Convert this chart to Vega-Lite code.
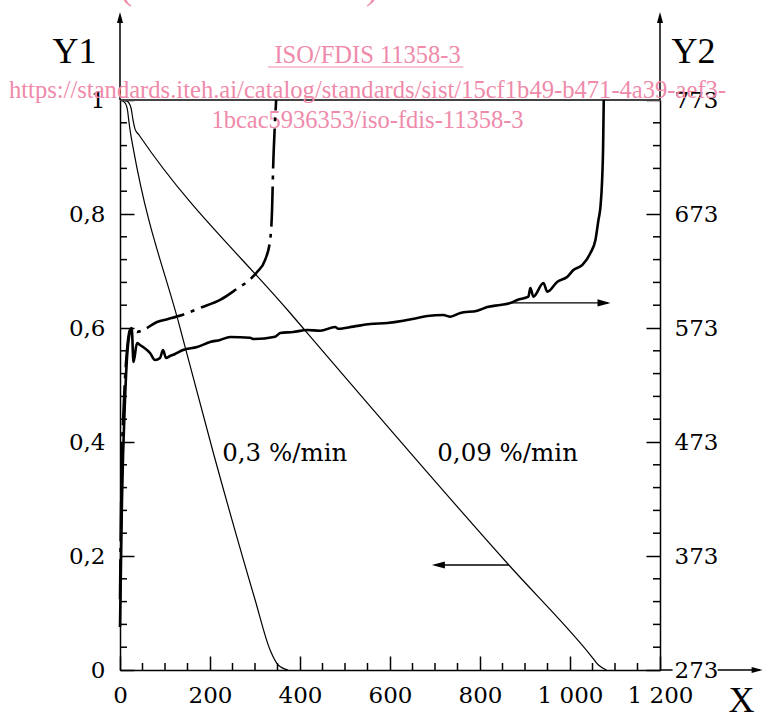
{
  "$schema": "https://vega.github.io/schema/vega-lite/v6.json",
  "width": 540,
  "height": 570,
  "autosize": {"type": "none"},
  "padding": {"left": 120, "top": 100, "right": 105, "bottom": 47},
  "background": "white",
  "config": {"view": {"stroke": null}, "axis": {"grid": false}},
  "datasets": {
    "one": [{}],
    "mass": [
      {"series": "0,3", "x": 0, "y": 1.0},
      {"series": "0,3", "x": 11.1, "y": 0.995},
      {"series": "0,3", "x": 16.7, "y": 0.982},
      {"series": "0,3", "x": 20, "y": 0.961},
      {"series": "0,3", "x": 23.4, "y": 0.942},
      {"series": "0,3", "x": 28.9, "y": 0.9175},
      {"series": "0,3", "x": 133.5, "y": 0.6},
      {"series": "0,3", "x": 206.9, "y": 0.3825},
      {"series": "0,3", "x": 300.3, "y": 0.1228},
      {"series": "0,3", "x": 333.6, "y": 0.0351},
      {"series": "0,3", "x": 351.4, "y": 0.0088},
      {"series": "0,3", "x": 373.7, "y": 0},
      {"series": "0,09", "x": 0, "y": 1.0},
      {"series": "0,09", "x": 15.6, "y": 0.998},
      {"series": "0,09", "x": 24.5, "y": 0.986},
      {"series": "0,09", "x": 28.9, "y": 0.965},
      {"series": "0,09", "x": 33.4, "y": 0.949},
      {"series": "0,09", "x": 42.3, "y": 0.9386},
      {"series": "0,09", "x": 378.1, "y": 0.6263},
      {"series": "0,09", "x": 864.1, "y": 0.1842},
      {"series": "0,09", "x": 1045.4, "y": 0.0263},
      {"series": "0,09", "x": 1063.2, "y": 0.0088},
      {"series": "0,09", "x": 1081, "y": 0}
    ],
    "temp": [
      {"series": "0,3", "x": 0, "t": 335},
      {"series": "0,3", "x": 3.3, "t": 439.7},
      {"series": "0,3", "x": 8.9, "t": 509.8},
      {"series": "0,3", "x": 15.6, "t": 553.7},
      {"series": "0,3", "x": 22.2, "t": 571.2},
      {"series": "0,3", "x": 28.9, "t": 573},
      {"series": "0,3", "x": 37.8, "t": 569.5},
      {"series": "0,3", "x": 51.2, "t": 571.2},
      {"series": "0,3", "x": 82.3, "t": 578.3},
      {"series": "0,3", "x": 106.8, "t": 580.9},
      {"series": "0,3", "x": 137.9, "t": 584.4},
      {"series": "0,3", "x": 177.9, "t": 590.6},
      {"series": "0,3", "x": 222.4, "t": 597.6},
      {"series": "0,3", "x": 262.5, "t": 608.1},
      {"series": "0,3", "x": 284.7, "t": 614.2},
      {"series": "0,3", "x": 304.7, "t": 622.1},
      {"series": "0,3", "x": 322.5, "t": 632.7},
      {"series": "0,3", "x": 333.6, "t": 650.2},
      {"series": "0,3", "x": 338.1, "t": 679.1},
      {"series": "0,3", "x": 340.3, "t": 713.4},
      {"series": "0,3", "x": 343.6, "t": 746.7},
      {"series": "0,3", "x": 347, "t": 773},
      {"series": "0,09", "x": 0, "t": 310.7},
      {"series": "0,09", "x": 4.4, "t": 422.1},
      {"series": "0,09", "x": 11.1, "t": 509.8},
      {"series": "0,09", "x": 17.8, "t": 558.1},
      {"series": "0,09", "x": 26, "t": 573},
      {"series": "0,09", "x": 30, "t": 543.2},
      {"series": "0,09", "x": 37.8, "t": 559.8},
      {"series": "0,09", "x": 44.5, "t": 558.1},
      {"series": "0,09", "x": 51.2, "t": 556.3},
      {"series": "0,09", "x": 66.7, "t": 551.1},
      {"series": "0,09", "x": 77.8, "t": 544.9},
      {"series": "0,09", "x": 89, "t": 546.7},
      {"series": "0,09", "x": 95.6, "t": 553.7},
      {"series": "0,09", "x": 102.3, "t": 546.7},
      {"series": "0,09", "x": 111.2, "t": 548.4},
      {"series": "0,09", "x": 122.3, "t": 550.2},
      {"series": "0,09", "x": 140.1, "t": 553.7},
      {"series": "0,09", "x": 171.3, "t": 556.3},
      {"series": "0,09", "x": 200.2, "t": 560.7},
      {"series": "0,09", "x": 222.4, "t": 562.5},
      {"series": "0,09", "x": 244.7, "t": 565.1},
      {"series": "0,09", "x": 289.1, "t": 564.5},
      {"series": "0,09", "x": 295.8, "t": 563.4},
      {"series": "0,09", "x": 344.8, "t": 565.4},
      {"series": "0,09", "x": 355.9, "t": 568.6},
      {"series": "0,09", "x": 384.8, "t": 569.5},
      {"series": "0,09", "x": 415.9, "t": 571.2},
      {"series": "0,09", "x": 444.8, "t": 570.6},
      {"series": "0,09", "x": 478.2, "t": 573.9},
      {"series": "0,09", "x": 484.9, "t": 572.3},
      {"series": "0,09", "x": 518.2, "t": 574.2},
      {"series": "0,09", "x": 556, "t": 576.5},
      {"series": "0,09", "x": 593.9, "t": 577.4},
      {"series": "0,09", "x": 629.4, "t": 579.4},
      {"series": "0,09", "x": 660.6, "t": 581.8},
      {"series": "0,09", "x": 682.8, "t": 583.5},
      {"series": "0,09", "x": 718.4, "t": 584.4},
      {"series": "0,09", "x": 734, "t": 582.9},
      {"series": "0,09", "x": 756.2, "t": 586.2},
      {"series": "0,09", "x": 794, "t": 588.2},
      {"series": "0,09", "x": 816.3, "t": 591.4},
      {"series": "0,09", "x": 845.2, "t": 593.2},
      {"series": "0,09", "x": 867.4, "t": 594.9},
      {"series": "0,09", "x": 883, "t": 597.6},
      {"series": "0,09", "x": 907.5, "t": 600.5},
      {"series": "0,09", "x": 911.9, "t": 608.1},
      {"series": "0,09", "x": 918.6, "t": 600.5},
      {"series": "0,09", "x": 940.8, "t": 612.5},
      {"series": "0,09", "x": 949.7, "t": 604.8},
      {"series": "0,09", "x": 972, "t": 613.6},
      {"series": "0,09", "x": 994.2, "t": 618},
      {"series": "0,09", "x": 1007.6, "t": 623.9},
      {"series": "0,09", "x": 1027.6, "t": 628.3},
      {"series": "0,09", "x": 1045.4, "t": 638.8},
      {"series": "0,09", "x": 1056.5, "t": 650.2},
      {"series": "0,09", "x": 1063.2, "t": 667.7},
      {"series": "0,09", "x": 1067.6, "t": 679.1},
      {"series": "0,09", "x": 1071.4, "t": 702.8},
      {"series": "0,09", "x": 1073.6, "t": 731.8},
      {"series": "0,09", "x": 1075, "t": 773}
    ],
    "minorY": [
      {"y": 0.04}, {"y": 0.08}, {"y": 0.12}, {"y": 0.16},
      {"y": 0.24}, {"y": 0.28}, {"y": 0.32}, {"y": 0.36},
      {"y": 0.44}, {"y": 0.48}, {"y": 0.52}, {"y": 0.56},
      {"y": 0.64}, {"y": 0.68}, {"y": 0.72}, {"y": 0.76},
      {"y": 0.84}, {"y": 0.88}, {"y": 0.92}, {"y": 0.96}
    ],
    "minorX": [
      {"x": 50}, {"x": 100}, {"x": 150},
      {"x": 250}, {"x": 300}, {"x": 350},
      {"x": 450}, {"x": 500}, {"x": 550},
      {"x": 650}, {"x": 700}, {"x": 750},
      {"x": 850}, {"x": 900}, {"x": 950},
      {"x": 1050}, {"x": 1100}, {"x": 1150}
    ]
  },
  "layer": [
    {
      "layer": [
        {
          "data": {"name": "mass"},
          "mark": {"type": "line", "color": "black", "strokeWidth": 1.2, "interpolate": "monotone"},
          "encoding": {
            "x": {
              "field": "x", "type": "quantitative",
              "scale": {"domain": [0, 1200], "nice": false, "zero": false},
              "axis": {
                "orient": "bottom", "values": [0, 200, 400, 600, 800, 1000, 1200],
                "title": "X", "titleX": 621, "titleY": 41, "titleAlign": "center", "titleBaseline": "alphabetic",
                "titleFont": "Liberation Serif", "titleFontSize": 36, "titleFontWeight": "normal", "titleColor": "black",
                "labelExpr": "replace(format(datum.value, ','), ',', ' ')",
                "labelFont": "DejaVu Serif", "labelFontSize": 23, "labelColor": "black", "labelPadding": 28,
                "labelFlush": false, "labelOverlap": false, "labelBaseline": "top",
                "tickSize": -14, "tickWidth": 1.5, "tickColor": "black",
                "domainColor": "black", "domainWidth": 1.5
              }
            },
            "y": {
              "field": "y", "type": "quantitative",
              "scale": {"domain": [0, 1], "nice": false, "zero": false},
              "axis": {
                "orient": "left", "values": [0, 0.2, 0.4, 0.6, 0.8, 1],
                "title": "Y1", "titleAngle": 0, "titleX": -46, "titleY": -38, "titleAlign": "center", "titleBaseline": "alphabetic",
                "titleFont": "Liberation Serif", "titleFontSize": 36, "titleFontWeight": "normal", "titleColor": "black",
                "labelExpr": "replace(format(datum.value, '~g'), '.', ',')",
                "labelFont": "DejaVu Serif", "labelFontSize": 23, "labelColor": "black", "labelPadding": 29,
                "labelFlush": false, "labelOverlap": false, "labelBaseline": "middle",
                "tickSize": -14, "tickWidth": 1.5, "tickColor": "black",
                "domainColor": "black", "domainWidth": 1.5
              }
            },
            "detail": {"field": "series"}
          }
        },
        {
          "data": {"name": "one"},
          "mark": {"type": "rule", "color": "#444444", "strokeWidth": 2},
          "encoding": {"x": {"datum": 0}, "x2": {"datum": 1200}, "y": {"datum": 1}}
        },
        {
          "data": {"name": "one"},
          "mark": {"type": "rule", "color": "black", "strokeWidth": 1.5},
          "encoding": {"x": {"datum": 0}, "y": {"datum": 1}, "y2": {"datum": 1.146}}
        },
        {
          "data": {"name": "one"},
          "mark": {"type": "rule", "color": "black", "strokeWidth": 1.5},
          "encoding": {"x": {"datum": 1200}, "y": {"datum": 1}, "y2": {"datum": 1.146}}
        },
        {
          "data": {"name": "one"},
          "mark": {"type": "rule", "color": "black", "strokeWidth": 1.5},
          "encoding": {"x": {"datum": 1200}, "x2": {"datum": 1228}, "y": {"datum": 0}}
        },
        {
          "data": {"name": "one"},
          "mark": {"type": "rule", "color": "black", "strokeWidth": 1.5},
          "encoding": {"x": {"datum": 1328}, "x2": {"datum": 1422}, "y": {"datum": 0}}
        },
        {
          "data": {"name": "one"},
          "mark": {"type": "point", "shape": "M0,0L-0.55,2L0.55,2Z", "size": 121, "filled": true, "color": "black", "opacity": 1},
          "encoding": {"x": {"datum": 0}, "y": {"datum": 1.1544}}
        },
        {
          "data": {"name": "one"},
          "mark": {"type": "point", "shape": "M0,0L-0.55,2L0.55,2Z", "size": 121, "filled": true, "color": "black", "opacity": 1},
          "encoding": {"x": {"datum": 1200}, "y": {"datum": 1.1544}}
        },
        {
          "data": {"name": "one"},
          "mark": {"type": "point", "shape": "M0,0L-2,-0.55L-2,0.55Z", "size": 121, "filled": true, "color": "black", "opacity": 1},
          "encoding": {"x": {"datum": 1428}, "y": {"datum": 0}}
        },
        {
          "data": {"name": "minorY"},
          "mark": {"type": "point", "shape": "M0,0L2,0", "size": 49, "filled": false, "color": "black", "strokeWidth": 1.5, "opacity": 1},
          "encoding": {"x": {"datum": 0}, "y": {"field": "y", "type": "quantitative"}}
        },
        {
          "data": {"name": "minorY"},
          "mark": {"type": "point", "shape": "M0,0L-2,0", "size": 49, "filled": false, "color": "black", "strokeWidth": 1.5, "opacity": 1},
          "encoding": {"x": {"datum": 1200}, "y": {"field": "y", "type": "quantitative"}}
        },
        {
          "data": {"name": "minorX"},
          "mark": {"type": "point", "shape": "M0,0L0,-2", "size": 49, "filled": false, "color": "black", "strokeWidth": 1.5, "opacity": 1},
          "encoding": {"x": {"field": "x", "type": "quantitative"}, "y": {"datum": 0}}
        },
        {
          "data": {"name": "one"},
          "mark": {"type": "rule", "color": "black", "strokeWidth": 1.3},
          "encoding": {"x": {"datum": 864}, "x2": {"datum": 700}, "y": {"datum": 0.1842}}
        },
        {
          "data": {"name": "one"},
          "mark": {"type": "point", "shape": "M0,0L2,-0.55L2,0.55Z", "size": 169, "filled": true, "color": "black", "opacity": 1},
          "encoding": {"x": {"datum": 693}, "y": {"datum": 0.1842}}
        },
        {
          "data": {"name": "one"},
          "mark": {"type": "text", "text": "0,3 %/min", "font": "DejaVu Serif", "fontSize": 24.5, "align": "left", "baseline": "alphabetic", "color": "black"},
          "encoding": {"x": {"datum": 227}, "y": {"datum": 0.3667}}
        },
        {
          "data": {"name": "one"},
          "mark": {"type": "text", "text": "0,09 %/min", "font": "DejaVu Serif", "fontSize": 24.5, "align": "left", "baseline": "alphabetic", "color": "black"},
          "encoding": {"x": {"datum": 705}, "y": {"datum": 0.3667}}
        },
        {
          "data": {"name": "one"},
          "mark": {"type": "text", "text": "(standards.iteh.ai)", "font": "Liberation Serif", "fontSize": 36, "align": "center", "baseline": "alphabetic", "color": "#ef8aab"},
          "encoding": {"x": {"datum": 287}, "y": {"datum": 1.1772}}
        },
        {
          "data": {"name": "one"},
          "mark": {"type": "text", "text": "ISO/FDIS 11358-3", "font": "Liberation Serif", "fontSize": 24.5, "align": "center", "baseline": "alphabetic", "color": "#ef8aab"},
          "encoding": {"x": {"datum": 550}, "y": {"datum": 1.0649}}
        },
        {
          "data": {"name": "one"},
          "mark": {"type": "rule", "color": "#ef8aab", "strokeWidth": 1.2},
          "encoding": {"x": {"datum": 329}, "x2": {"datum": 763}, "y": {"datum": 1.0579}}
        },
        {
          "data": {"name": "one"},
          "mark": {"type": "text", "text": "https://standards.iteh.ai/catalog/standards/sist/15cf1b49-b471-4a39-aef3-", "font": "Liberation Serif", "fontSize": 24.6, "align": "center", "baseline": "alphabetic", "color": "#ef8aab"},
          "encoding": {"x": {"datum": 550}, "y": {"datum": 1.0035}}
        },
        {
          "data": {"name": "one"},
          "mark": {"type": "text", "text": "1bcac5936353/iso-fdis-11358-3", "font": "Liberation Serif", "fontSize": 24.5, "align": "center", "baseline": "alphabetic", "color": "#ef8aab"},
          "encoding": {"x": {"datum": 550}, "y": {"datum": 0.9509}}
        }
      ]
    },
    {
      "layer": [
        {
          "data": {"name": "temp"},
          "transform": [{"filter": "datum.series == '0,3'"}],
          "mark": {"type": "line", "color": "black", "strokeWidth": 2.6, "interpolate": "monotone", "strokeDash": [40, 7, 4, 7]},
          "encoding": {
            "x": {"field": "x", "type": "quantitative"},
            "y": {
              "field": "t", "type": "quantitative",
              "scale": {"domain": [273, 773], "nice": false, "zero": false},
              "axis": {
                "orient": "right", "values": [273, 373, 473, 573, 673, 773],
                "title": "Y2", "titleAngle": 0, "titleX": 33, "titleY": -38, "titleAlign": "center", "titleBaseline": "alphabetic",
                "titleFont": "Liberation Serif", "titleFontSize": 36, "titleFontWeight": "normal", "titleColor": "black",
                "labelFont": "DejaVu Serif", "labelFontSize": 23, "labelColor": "black", "labelPadding": 28,
                "labelFlush": false, "labelOverlap": false, "labelBaseline": "middle",
                "tickSize": -14, "tickWidth": 1.5, "tickColor": "black",
                "domainColor": "black", "domainWidth": 1.5
              }
            }
          }
        },
        {
          "data": {"name": "temp"},
          "transform": [{"filter": "datum.series == '0,09'"}],
          "mark": {"type": "line", "color": "black", "strokeWidth": 2.6, "interpolate": "monotone"},
          "encoding": {
            "x": {"field": "x", "type": "quantitative"},
            "y": {"field": "t", "type": "quantitative"}
          }
        },
        {
          "data": {"name": "one"},
          "mark": {"type": "rule", "color": "black", "strokeWidth": 1.3},
          "encoding": {"x": {"datum": 867}, "x2": {"datum": 1084}, "y": {"datum": 595}}
        },
        {
          "data": {"name": "one"},
          "mark": {"type": "point", "shape": "M0,0L-2,-0.55L-2,0.55Z", "size": 169, "filled": true, "color": "black", "opacity": 1},
          "encoding": {"x": {"datum": 1090}, "y": {"datum": 595}}
        }
      ]
    }
  ],
  "resolve": {"scale": {"y": "independent"}}
}
